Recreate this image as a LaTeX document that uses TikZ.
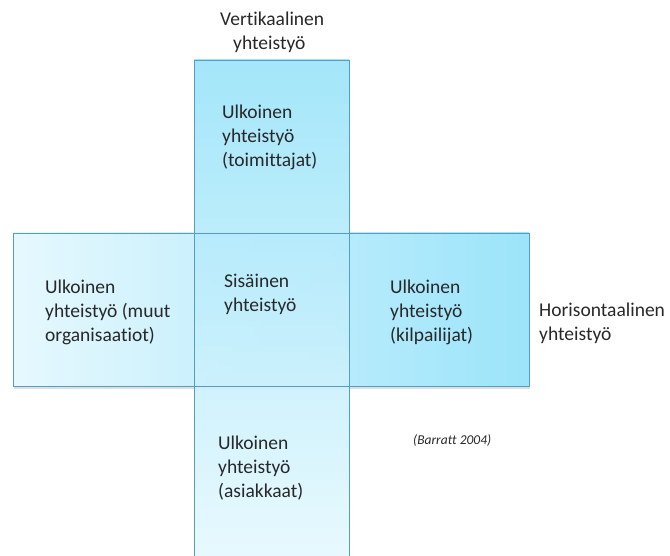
\documentclass[tikz,border=0pt]{standalone}
\usepackage{fontspec}
\setmainfont[Ligatures=NoCommon]{Carlito}
\definecolor{cyanDeep}{RGB}{156,228,250}
\definecolor{cyanPale}{RGB}{230,248,254}
\definecolor{edgeBlue}{RGB}{84,158,198}
\definecolor{inkGray}{RGB}{40,40,40}
\tikzset{
  band/.style={rectangle, anchor=north west, inner sep=0pt, outer sep=0pt},
  bandedge/.style={draw=edgeBlue, line width=0.9pt},
  cell/.style={anchor=north west, align=left, inner sep=0pt, text=inkGray,
    font=\fontsize{19.5}{24}\selectfont},
  cite/.style={anchor=west, inner sep=0pt, text=inkGray,
    font=\fontsize{13.5}{15}\selectfont\itshape},
}
\begin{document}
\begin{tikzpicture}[x=1pt, y=-1pt]
\useasboundingbox (0,0) rectangle (670,556);
% soft shadow under the horizontal band
\fill[black!25, opacity=0.5] (14,386) rectangle (530,388.5);
% horizontal band: pale on the left, deeper cyan on the right
\node[band, left color=cyanPale, right color=cyanDeep,
      minimum width=516pt, minimum height=153pt] (hband) at (13,233) {};
% vertical band: deeper cyan at the top, pale at the bottom
\node[band, top color=cyanDeep, bottom color=cyanPale, fill opacity=0.92,
      minimum width=155pt, minimum height=497pt] (vband) at (194,60) {};
% outlines of both bands, drawn over the fills
\draw[bandedge] (hband.north west) rectangle (hband.south east);
\draw[bandedge] (vband.north west) rectangle (vband.south east);

% texts inside the cross
\node[cell] (top) at (222,105) {Ulkoinen\\yhteistyö\\(toimittajat)};
\node[cell] (mid) at (224,274) {Sisäinen\\yhteistyö};
\node[cell] (lft) at (45,280) {Ulkoinen\\yhteistyö (muut\\organisaatiot)};
\node[cell] (rgt) at (390,280) {Ulkoinen\\yhteistyö\\(kilpailijat)};
\node[cell] (bot) at (218,436) {Ulkoinen\\yhteistyö\\(asiakkaat)};

% axis labels
\node[cell] (vlab) at (220,12) {Vertikaalinen\\\hspace*{13pt}yhteistyö};
\node[cell] (hlab) at (539,303) {Horisontaalinen\\yhteistyö};

% source
\node[cite] (src) at (413,440) {(Barratt 2004)};
\end{tikzpicture}
\end{document}
